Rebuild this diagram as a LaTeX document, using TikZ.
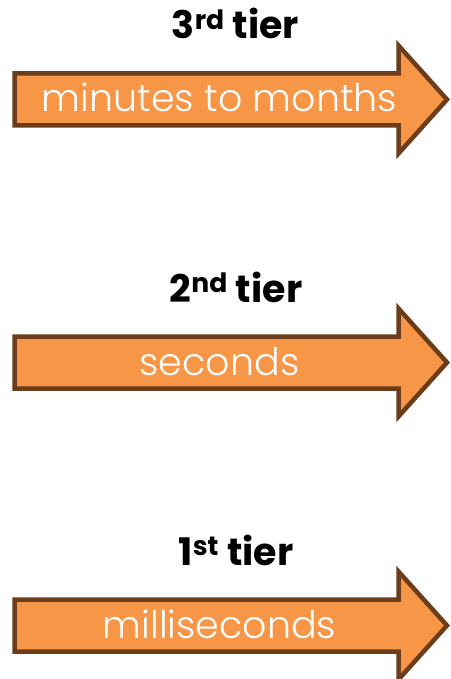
\documentclass[tikz,border=0pt]{standalone}
\usepackage{fontspec}
\setmainfont{Poppins}
\newfontfamily\thinfont{Poppins Light}
\begin{document}
\begin{tikzpicture}[x=1pt,y=-1pt,
  tierarrow/.style={draw=arrowedge, fill=arrowfill, line width=4.5pt, line join=miter},
  arrowtext/.style={text=white, font=\thinfont\fontsize{38}{38}\selectfont, anchor=base, inner sep=0pt},
  tiertitle/.style={text=black, font=\bfseries\fontsize{38}{38}\selectfont, anchor=base, inner sep=0pt}]
\definecolor{arrowfill}{HTML}{F79646}
\definecolor{arrowedge}{HTML}{6B3D1A}
\useasboundingbox (0,0) rectangle (450,679);

% one arrow per tier, centred vertically at the given y
\foreach \cy in {99.5, 362.5, 625.5}{
  \draw[tierarrow] (14.5,\cy-26) -- (398.5,\cy-26) -- (398.5,\cy-54) -- (447,\cy)
    -- (398.5,\cy+54) -- (398.5,\cy+26) -- (14.5,\cy+26) -- cycle;
}

\node[arrowtext] (t3) at (219.5,112) {minutes to months};
\node[arrowtext] (t2) at (219.5,375) {seconds};
\node[arrowtext] (t1) at (219.5,638) {milliseconds};

\node[tiertitle] (h3) at (235.5,39) {3\textsuperscript{rd} tier};
\node[tiertitle] (h2) at (236,302) {2\textsuperscript{nd} tier};
\node[tiertitle] (h1) at (236,565) {1\textsuperscript{st} tier};
\end{tikzpicture}
\end{document}
